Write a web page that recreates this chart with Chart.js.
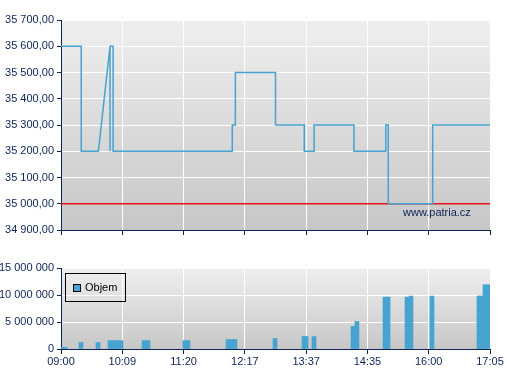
<!DOCTYPE html>
<html>
<head>
<meta charset="utf-8">
<script src="https://cdn.jsdelivr.net/npm/chart.js@4/dist/chart.umd.min.js"></script>
<style>
  body { margin: 0; background: #fff; width: 507px; height: 380px; overflow: hidden; position: relative; font-family: "Liberation Sans", Arial, sans-serif; }
  #priceChart { position: absolute; left: 0; top: 0; }
  #volChart { position: absolute; left: 0; top: 250px; }
  .mark { position: absolute; left: 403px; top: 206px; font-size: 11px; color: #0d2456; }
  .legend { position: absolute; left: 65px; top: 273px; width: 59px; height: 27px; border: 1px solid #000; font-size: 11px; color: #000; }
  .legend i { position: absolute; left: 7px; top: 10px; width: 6px; height: 6px; border: 1px solid #000; background: #47a3cf; }
  .legend span { position: absolute; left: 19px; top: 7px; }
</style>
</head>
<body>
<canvas id="priceChart" width="507" height="240"></canvas>
<canvas id="volChart" width="507" height="130"></canvas>
<div class="mark">www.patria.cz</div>
<div class="legend"><i></i><span>Objem</span></div>
<script>
// ── Data ────────────────────────────────────────────────────────────────────
const timeLabels = ['09:00', '10:09', '11:20', '12:17', '13:37', '14:35', '16:00', '17:05'];

// price path (x = position on the trade axis, 0..7)
const priceX = [0, 0.33, 0.33, 0.61, 0.80, 0.80, 0.80, 0.85, 0.85, 2.795, 2.795, 2.845, 2.845, 3.50, 3.50, 3.97, 3.97, 4.13, 4.13, 4.78, 4.78, 5.30, 5.30, 5.34, 5.34, 6.065, 6.065, 7];
const priceY = [35600, 35600, 35200, 35200, 35600, 35200, 35600, 35600, 35200, 35200, 35300, 35300, 35500, 35500, 35300, 35300, 35200, 35200, 35300, 35300, 35200, 35200, 35300, 35300, 35000, 35000, 35300, 35300];

const refX = [0, 7];
const refY = [35000, 35000];

const priceTicks = { min: 34900, max: 35700, step: 100 };

const volX = [0.033, 0.065, 0.326, 0.604, 0.800, 0.865, 0.930, 0.979, 1.354, 1.420, 2.023, 2.072, 2.725, 2.790, 2.839, 3.492, 3.965, 3.998, 4.128, 4.764, 4.829, 5.287, 5.336, 5.646, 5.711, 6.053, 6.820, 6.853, 6.918, 6.983];
const volY = [300000, 300000, 1200000, 1200000, 1550000, 1550000, 1550000, 1550000, 1550000, 1550000, 1550000, 1550000, 1750000, 1750000, 1750000, 1950000, 2300000, 2300000, 2300000, 4200000, 5100000, 9600000, 9600000, 9600000, 9800000, 9800000, 9800000, 9800000, 11900000, 11900000];

const volTicks = { min: 0, max: 15000000, step: 5000000 };

// ── Helpers ─────────────────────────────────────────────────────────────────
const NAVY = '#0d2456';
const BLUE = '#47a3cf';

function spaced(n) {
  return String(Math.round(n)).replace(/\B(?=(\d{3})+(?!\d))/g, ' ');
}

const bgGradient = {
  id: 'bgGradient',
  beforeDraw(chart) {
    const { ctx, chartArea: a } = chart;
    const g = ctx.createLinearGradient(0, a.top, 0, a.bottom);
    g.addColorStop(0, '#efefef');
    g.addColorStop(1, '#c7c7c7');
    ctx.save();
    ctx.fillStyle = g;
    ctx.fillRect(a.left, a.top, a.right - a.left, a.bottom - a.top);
    ctx.restore();
  }
};

Chart.defaults.font.family = '"Liberation Sans", Arial, sans-serif';
Chart.defaults.font.size = 11;
Chart.defaults.color = NAVY;

function xAxis(showLabels, height) {
  return {
    type: 'linear', min: 0, max: 7, offset: false,
    afterFit: function (s) { s.height = height; },
    grid: { color: '#ffffff', lineWidth: 1, tickLength: 5, tickColor: NAVY, offset: false },
    border: { color: NAVY, width: 1 },
    ticks: {
      display: showLabels, stepSize: 1, padding: 1, maxRotation: 0, autoSkip: false,
      callback: function (v) { return timeLabels[v]; }
    }
  };
}

function yAxis(t, fmt) {
  return {
    min: t.min, max: t.max,
    afterFit: function (s) { s.width = 61; },
    grid: { color: '#ffffff', lineWidth: 1, tickLength: 4, tickColor: NAVY },
    border: { color: NAVY, width: 1 },
    ticks: { stepSize: t.step, padding: 3, callback: fmt }
  };
}

// ── Price chart ─────────────────────────────────────────────────────────────
new Chart(document.getElementById('priceChart'), {
  type: 'line',
  data: {
    datasets: [{
      data: priceX.map((x, i) => ({ x: x, y: priceY[i] })),
      borderColor: BLUE, borderWidth: 1.5, pointRadius: 0, tension: 0
    }, {
      data: refX.map((x, i) => ({ x: x, y: refY[i] })),
      borderColor: '#e3141b', borderWidth: 1.5, pointRadius: 0
    }]
  },
  options: {
    responsive: false, animation: false,
    layout: { padding: { top: 20, right: 17, left: 0, bottom: 0 } },
    plugins: { legend: { display: false }, tooltip: { enabled: false } },
    scales: {
      x: xAxis(false, 10),
      y: yAxis(priceTicks, function (v) {
        return spaced(Math.floor(v)) + ',00';
      })
    }
  },
  plugins: [bgGradient]
});

// ── Volume chart ────────────────────────────────────────────────────────────
new Chart(document.getElementById('volChart'), {
  type: 'bar',
  data: {
    datasets: [{
      label: 'Objem',
      data: volX.map((x, i) => ({ x: x, y: volY[i] })),
      backgroundColor: BLUE, barThickness: 4, borderWidth: 0
    }]
  },
  options: {
    responsive: false, animation: false,
    layout: { padding: { top: 18, right: 17, left: 0, bottom: 0 } },
    plugins: { legend: { display: false }, tooltip: { enabled: false } },
    scales: {
      x: xAxis(true, 31),
      y: yAxis(volTicks, function (v) { return spaced(v); })
    }
  },
  plugins: [bgGradient]
});
</script>
</body>
</html>
